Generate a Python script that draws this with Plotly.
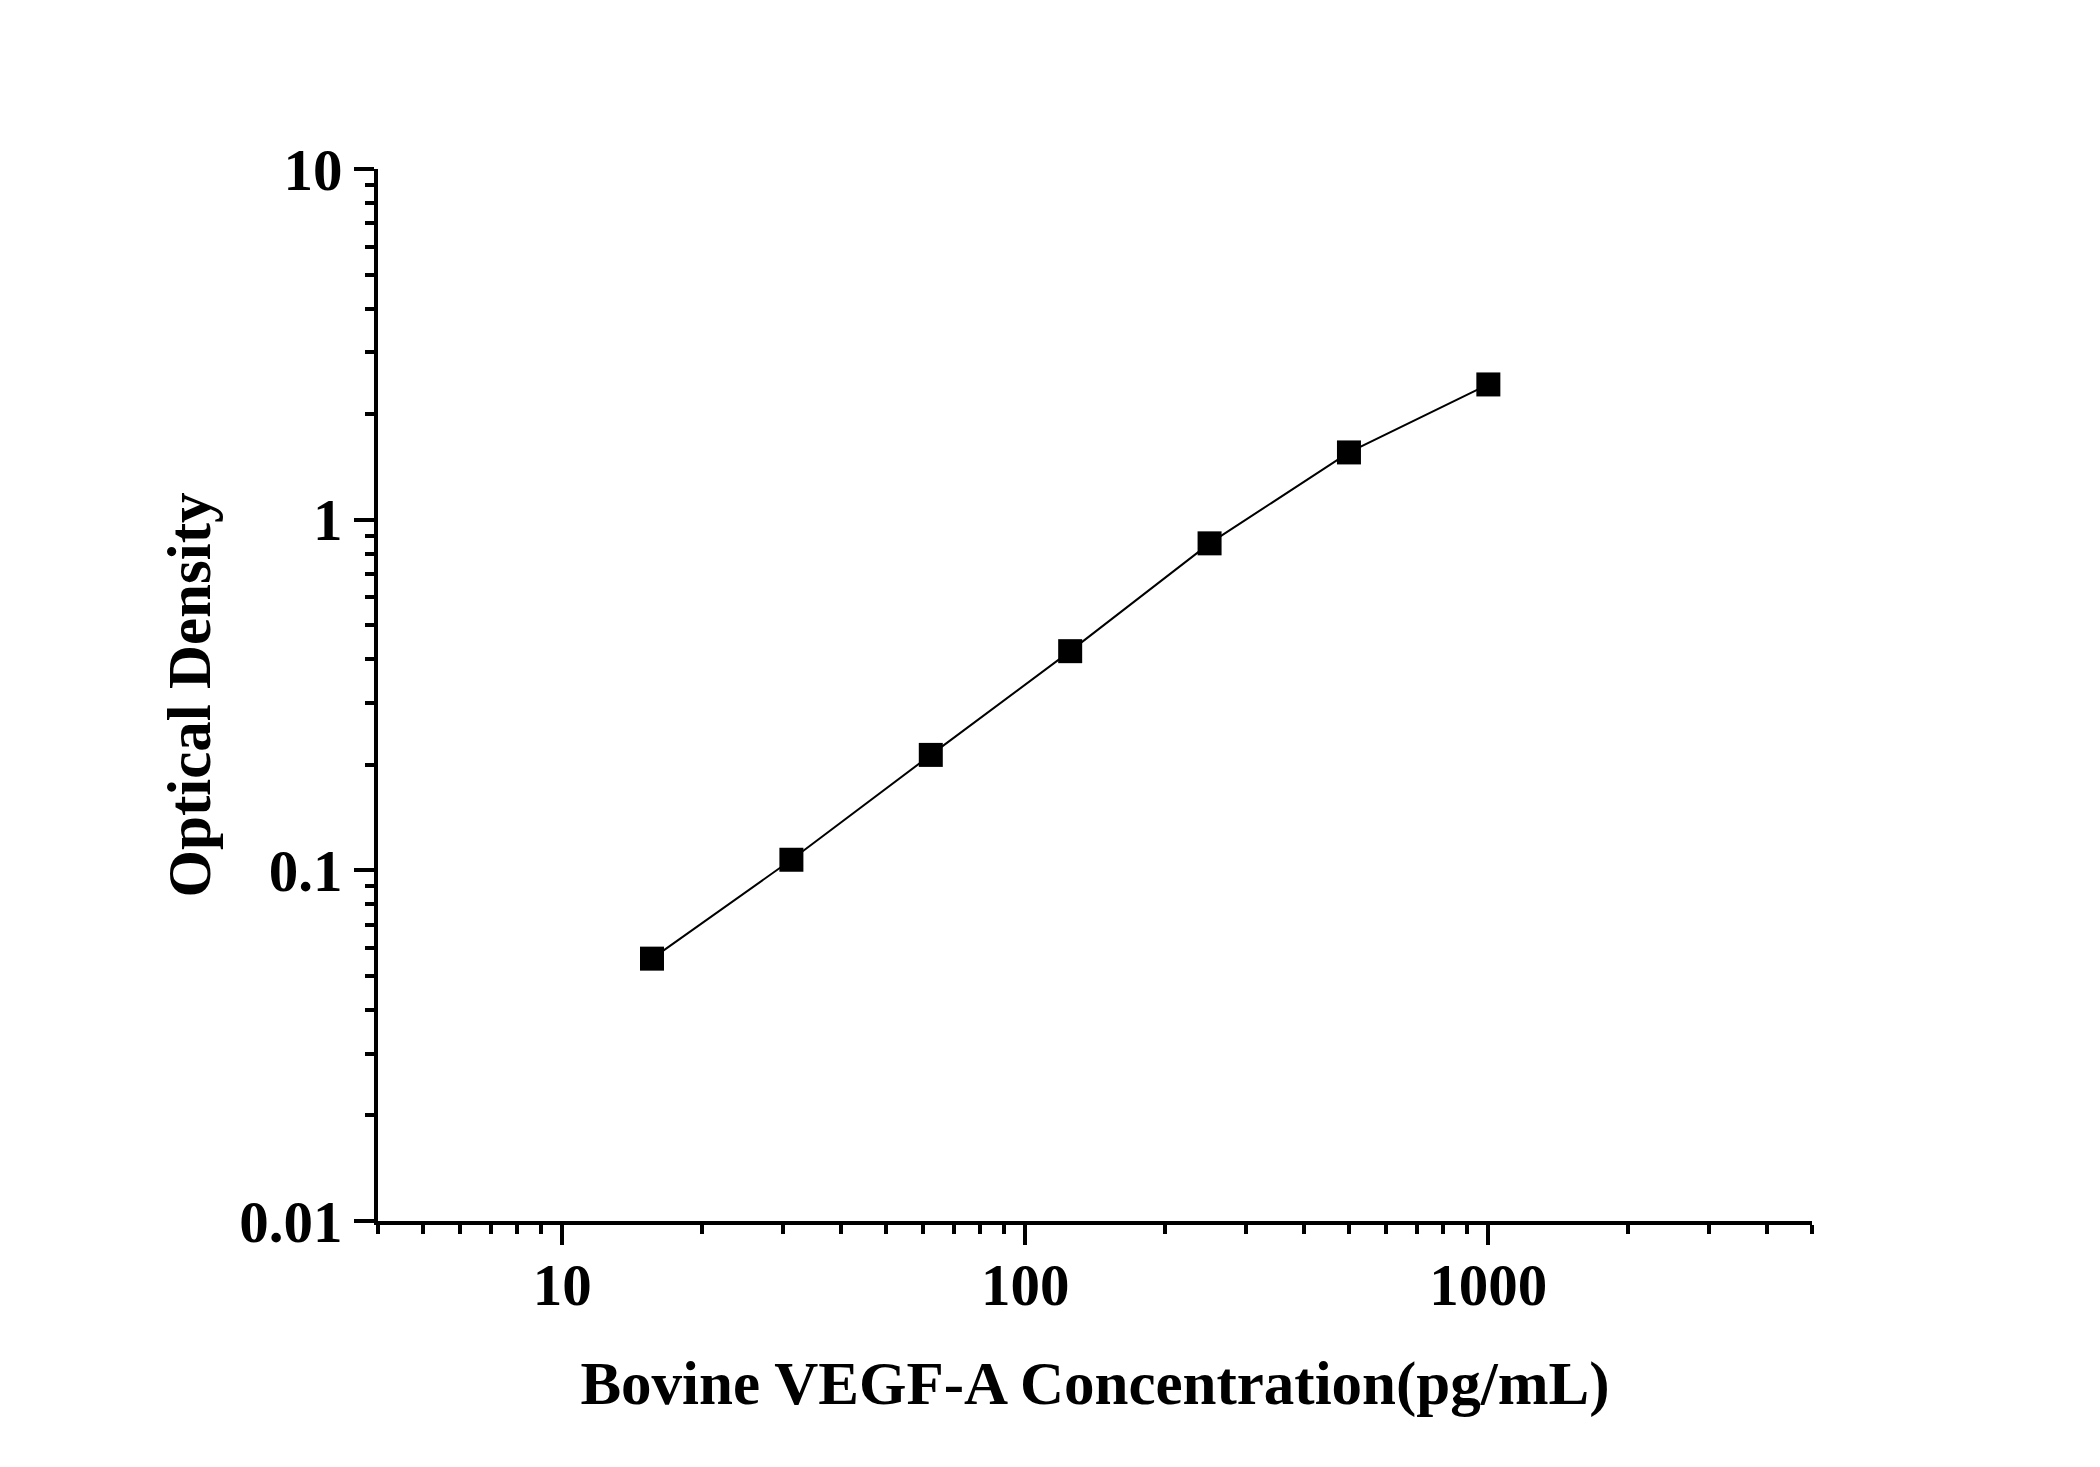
import numpy as np
import plotly.graph_objects as go

# standard curve readings
concentration = [15.625, 31.25, 62.5, 125, 250, 500, 1000]
optical_density = [0.0560, 0.1072, 0.2134, 0.4217, 0.856, 1.555, 2.43]

x_major = [10, 100, 1000]
x_major_text = ["10", "100", "1000"]
x_minor = [4, 5, 6, 7, 8, 9, 20, 30, 40, 50, 60, 70, 80, 90,
           200, 300, 400, 500, 600, 700, 800, 900, 2000, 3000, 4000, 5000]

y_major = [0.01, 0.1, 1, 10]
y_major_text = ["0.01", "0.1", "1", "10"]
y_minor = [0.02, 0.03, 0.04, 0.05, 0.06, 0.07, 0.08, 0.09,
           0.2, 0.3, 0.4, 0.5, 0.6, 0.7, 0.8, 0.9,
           2, 3, 4, 5, 6, 7, 8, 9]

FONT = "Liberation Serif"

fig = go.Figure()
fig.add_trace(go.Scatter(
    x=concentration, y=optical_density, mode="lines+markers",
    line=dict(color="black", width=2),
    marker=dict(symbol="square", size=24, color="black"),
    showlegend=False
))

axis_style = dict(
    type="log",
    showline=True, linecolor="black", linewidth=3.5,
    ticks="outside", ticklen=20, tickwidth=3.5, tickcolor="black",
    showgrid=False, zeroline=False, mirror=False,
    tickfont=dict(family=FONT, size=59, color="black", weight="bold"),
)

fig.update_xaxes(
    **axis_style,
    range=[np.log10(4), np.log10(5000)],
    tickmode="array", tickvals=x_major, ticktext=x_major_text,
    ticklabelstandoff=-11,
    minor=dict(tickmode="array", tickvals=x_minor, ticks="outside",
               ticklen=9, tickwidth=3.5, tickcolor="black", showgrid=False),
    title=dict(text="<b>Bovine VEGF-A Concentration(pg/mL)</b>",
               font=dict(family=FONT, size=61, color="black"), standoff=46),
)
fig.update_yaxes(
    **axis_style,
    range=[-2, 1],
    tickmode="array", tickvals=y_major, ticktext=y_major_text,
    minor=dict(tickmode="array", tickvals=y_minor, ticks="outside",
               ticklen=9, tickwidth=3.5, tickcolor="black", showgrid=False),
    title=dict(text="<b>Optical Density</b>",
               font=dict(family=FONT, size=61, color="black"), standoff=10),
)

# page body adds an 8px offset, so margins are trimmed by that much
fig.update_layout(
    width=2100, height=1467,
    plot_bgcolor="white", paper_bgcolor="white",
    margin=dict(l=370, r=296, t=161, b=254, autoexpand=False),
    font=dict(family=FONT, color="black"),
)

fig.write_html("out.html")
